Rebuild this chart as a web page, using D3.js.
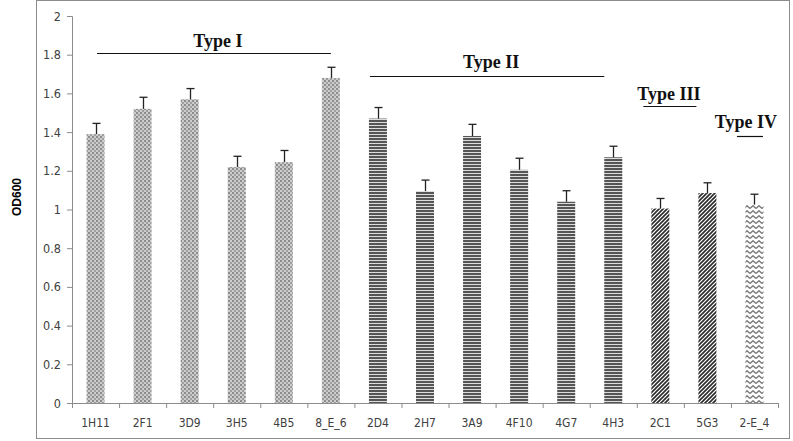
<!DOCTYPE html>
<html><head><meta charset="utf-8">
<script src="https://cdn.jsdelivr.net/npm/d3@7"></script>
<style>body{margin:0;background:#fff}</style>
</head><body>
<svg id="c" width="793" height="441"></svg>
<script>
const categories = ["1H11","2F1","3D9","3H5","4B5","8_E_6","2D4","2H7","3A9","4F10","4G7","4H3","2C1","5G3","2-E_4"];
const values = [1.39,1.52,1.57,1.22,1.245,1.68,1.47,1.095,1.38,1.205,1.04,1.27,1.005,1.085,1.025];
const errors = [0.055,0.06,0.055,0.055,0.06,0.055,0.057,0.057,0.06,0.06,0.057,0.057,0.052,0.053,0.054];
const types = ["I","I","I","I","I","I","II","II","II","II","II","II","III","III","IV"];
const yTicks = [0,0.2,0.4,0.6,0.8,1,1.2,1.4,1.6,1.8,2];
const groups = [
  {label:"Type I", first:"1H11", last:"8_E_6", lineY:1.81},
  {label:"Type II", first:"2D4", last:"4H3", lineY:1.69},
  {label:"Type III", first:"2C1", last:"5G3", lineY:1.535},
  {label:"Type IV", first:"2-E_4", last:"2-E_4", lineY:1.38}
];

const svg = d3.select("#c");
const defs = svg.append("defs");
// Type I: gray checker dots
let p = defs.append("pattern").attr("id","pI").attr("patternUnits","userSpaceOnUse").attr("width",4).attr("height",4);
p.append("rect").attr("width",4).attr("height",4).attr("fill","#cdcdcd");
p.append("rect").attr("x",0).attr("y",0).attr("width",2).attr("height",2).attr("fill","#8c8c8c");
p.append("rect").attr("x",2).attr("y",2).attr("width",2).attr("height",2).attr("fill","#9e9e9e");
// Type II: horizontal stripes
p = defs.append("pattern").attr("id","pII").attr("patternUnits","userSpaceOnUse").attr("width",4).attr("height",3);
p.append("rect").attr("width",4).attr("height",3).attr("fill","#dcdcdc");
p.append("rect").attr("width",4).attr("height",2).attr("fill","#555");
// Type III: diagonal hatch
p = defs.append("pattern").attr("id","pIII").attr("patternUnits","userSpaceOnUse").attr("width",4).attr("height",4);
p.append("rect").attr("width",4).attr("height",4).attr("fill","#fff");
p.append("path").attr("d","M-1,5 L5,-1 M-1,1 L1,-1 M3,5 L5,3").attr("stroke","#2a2a2a").attr("stroke-width",1.6);
// Type IV: zigzag
p = defs.append("pattern").attr("id","pIV").attr("patternUnits","userSpaceOnUse").attr("width",6).attr("height",5);
p.append("rect").attr("width",6).attr("height",5).attr("fill","#fff");
p.append("path").attr("d","M0,3.5 L3,0.8 L6,3.5").attr("fill","none").attr("stroke","#7a7a7a").attr("stroke-width",1.4);
const fills = {I:"url(#pI)",II:"url(#pII)",III:"url(#pIII)",IV:"url(#pIV)"};

// outer frame
svg.append("rect").attr("x",36.5).attr("y",0.5).attr("width",753).attr("height",438)
  .attr("fill","none").attr("stroke","#8c8c8c").attr("stroke-width",1);

const x = d3.scaleBand().domain(categories).range([72,778]).paddingInner(0).paddingOuter(0);
const y = d3.scaleLinear().domain([0,2]).range([403,16]);
const barW = 18;
const cx = c => x(c)+x.bandwidth()/2;

// y axis
const ya = svg.append("g").attr("transform","translate(72,0)")
  .call(d3.axisLeft(y).tickValues(yTicks).tickSize(5).tickPadding(6).tickFormat(d=>String(d)));
ya.select(".domain").attr("stroke","#8c8c8c");
ya.selectAll(".tick line").attr("stroke","#8c8c8c");
ya.selectAll("text").attr("font-family","'DejaVu Sans Condensed','Liberation Sans',sans-serif").attr("font-size",12.5).attr("fill","#404040");

// x axis
const xa = svg.append("g").attr("transform","translate(0,403)")
  .call(d3.axisBottom(x).tickSize(0).tickPadding(15));
xa.select(".domain").attr("stroke","#8c8c8c");
xa.selectAll("text").attr("font-family","'DejaVu Sans Condensed','Liberation Sans',sans-serif").attr("font-size",12).attr("fill","#404040");
// boundary ticks
const bounds = categories.map(c=>x(c)).concat([x(categories[categories.length-1])+x.bandwidth()]);
svg.append("g").selectAll("line").data(bounds).join("line")
  .attr("x1",d=>d+0.5).attr("x2",d=>d+0.5).attr("y1",403).attr("y2",408).attr("stroke","#8c8c8c");

// bars
svg.append("g").selectAll("rect").data(categories).join("rect")
  .attr("x",c=>cx(c)-barW/2)
  .attr("y",(c,i)=>y(values[i]))
  .attr("width",barW)
  .attr("height",(c,i)=>y(0)-y(values[i]))
  .attr("fill",(c,i)=>fills[types[i]]);

// error bars
const eb = svg.append("g").attr("stroke","#222").attr("stroke-width",1.3);
categories.forEach((c,i)=>{
  const px = Math.round(cx(c))+0.5;
  eb.append("line").attr("x1",px).attr("x2",px).attr("y1",y(values[i])).attr("y2",y(values[i]+errors[i]));
  eb.append("line").attr("x1",px-4).attr("x2",px+4).attr("y1",y(values[i]+errors[i])).attr("y2",y(values[i]+errors[i]));
});

// y label
svg.append("text").attr("transform","translate(21,197) rotate(-90)").attr("text-anchor","middle")
  .attr("font-family","'Liberation Sans',Arial,sans-serif").attr("font-weight","bold").attr("font-size",12).text("OD600");

// group annotations (line extents relative to bar centres)
const ext = {"Type I":[1.5,0,7],"Type II":[-8,-9,9],"Type III":[-17,-11,7],"Type IV":[-17.5,8.5,9]};
const textShift = {"Type I":4,"Type II":4,"Type III":-1,"Type IV":-4};
const gg = svg.append("g");
groups.forEach(g=>{
  const e = ext[g.label];
  const x1 = cx(g.first)+e[0], x2 = cx(g.last)+e[1];
  const ly = Math.round(y(g.lineY))+0.5;
  gg.append("line").attr("x1",x1).attr("x2",x2).attr("y1",ly).attr("y2",ly)
    .attr("stroke","#111").attr("stroke-width",1.2);
  gg.append("text").attr("x",(x1+x2)/2+textShift[g.label]).attr("y",ly-e[2]).attr("text-anchor","middle")
    .attr("font-family","'Liberation Serif','Times New Roman',serif").attr("font-weight","bold").attr("font-size",18)
    .attr("fill","#111").text(g.label);
});
</script>
</body></html>
